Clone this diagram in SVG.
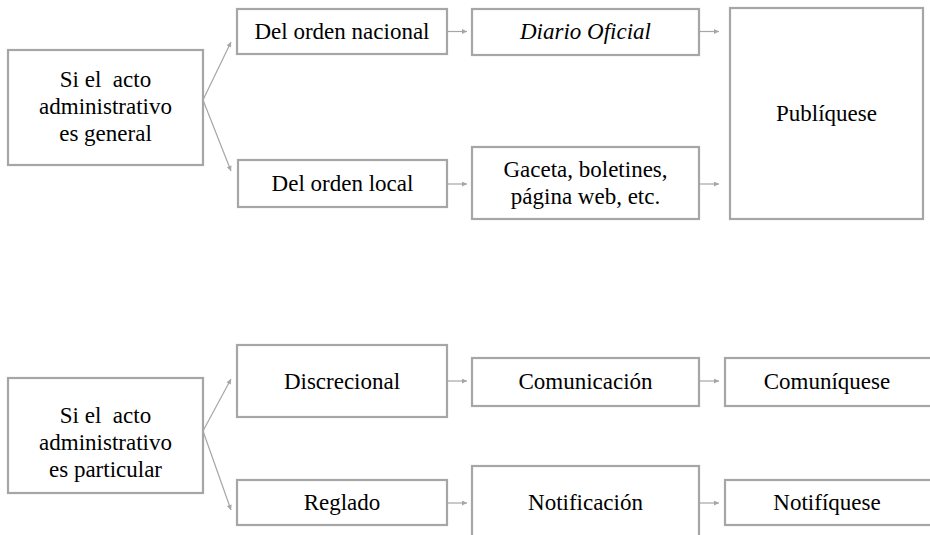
<svg xmlns="http://www.w3.org/2000/svg" width="930" height="535" viewBox="0 0 930 535">
<style>
.box{fill:#fff;stroke:#a6a6a6;stroke-width:2.2}
text{font-size:23px;fill:#000;text-anchor:middle;white-space:pre}
.it{font-style:italic}
.c{stroke:#a6a6a6;stroke-width:1.2;fill:none;marker-end:url(#ah)}
</style>
<defs>
<marker id="ah" viewBox="0 0 10 10" refX="10" refY="5" markerWidth="6" markerHeight="5" markerUnits="userSpaceOnUse" orient="auto">
<path d="M0,0 L10,5 L0,10 z" fill="#a6a6a6"/>
</marker>
</defs>
<rect width="930" height="535" fill="#fff"/>
<g id="connectors">
<path class="c" d="M203,100 L231,42"/>
<path class="c" d="M203,100 L231,171"/>
<path class="c" d="M447,31.5 L467,31.5"/>
<path class="c" d="M700,31.5 L719,31.5"/>
<path class="c" d="M447,184 L467,184"/>
<path class="c" d="M700,184 L719,184"/>
<path class="c" d="M203,431 L231,379"/>
<path class="c" d="M203,431 L231,510"/>
<path class="c" d="M447,381 L467,381"/>
<path class="c" d="M700,381 L719,381"/>
<path class="c" d="M447,503 L467,503"/>
<path class="c" d="M700,503 L719,503"/>
</g>
<g font-family="Liberation Serif, Times New Roman, Tinos, DejaVu Serif, Noto Serif, serif">
<g id="general">
<rect class="box" x="8" y="50" width="195" height="115"/>
<text x="105.5" y="87">Si el  acto</text>
<text x="105.5" y="114">administrativo</text>
<text x="105.5" y="141">es general</text>
</g>
<g id="nacional">
<rect class="box" x="237" y="9" width="210" height="45"/>
<text x="342" y="39">Del orden nacional</text>
</g>
<g id="local">
<rect class="box" x="238" y="160" width="209" height="47"/>
<text x="342.5" y="191">Del orden local</text>
</g>
<g id="diario">
<rect class="box" x="472" y="9" width="227" height="46"/>
<text class="it" x="585.5" y="39">Diario Oficial</text>
</g>
<g id="gaceta">
<rect class="box" x="472" y="147" width="227" height="72"/>
<text x="585.5" y="177">Gaceta, boletines,</text>
<text x="585.5" y="204">página web, etc.</text>
</g>
<g id="publiquese">
<rect class="box" x="730" y="8" width="193" height="211"/>
<text x="826.5" y="121">Publíquese</text>
</g>
<g id="particular">
<rect class="box" x="8" y="378" width="195" height="115"/>
<text x="105.5" y="423">Si el  acto</text>
<text x="105.5" y="450">administrativo</text>
<text x="105.5" y="477">es particular</text>
</g>
<g id="discrecional">
<rect class="box" x="237" y="345" width="210" height="72"/>
<text x="342" y="389">Discrecional</text>
</g>
<g id="reglado">
<rect class="box" x="237" y="480" width="210" height="45"/>
<text x="342" y="510">Reglado</text>
</g>
<g id="comunicacion">
<rect class="box" x="472" y="358" width="227" height="48"/>
<text x="585.5" y="389">Comunicación</text>
</g>
<g id="notificacion">
<rect class="box" x="472" y="466" width="227" height="80"/>
<text x="585.5" y="510">Notificación</text>
</g>
<g id="comuniquese">
<rect class="box" x="725" y="358" width="210" height="48"/>
<text x="827" y="389">Comuníquese</text>
</g>
<g id="notifiquese">
<rect class="box" x="725" y="480" width="210" height="45"/>
<text x="827" y="510">Notifíquese</text>
</g>
</g>
</svg>
